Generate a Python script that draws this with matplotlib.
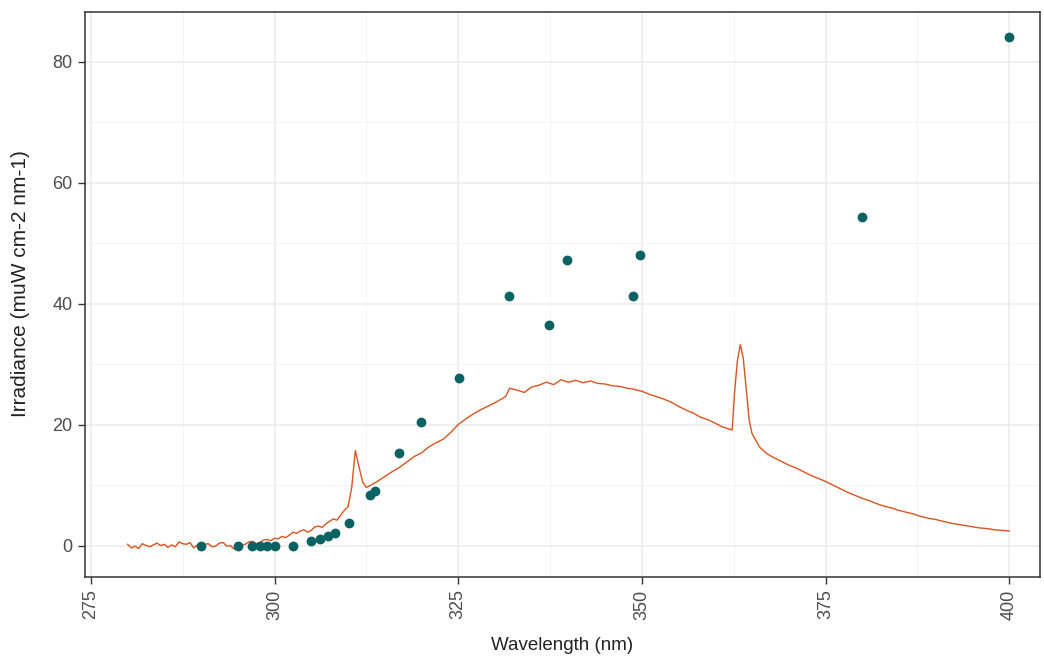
import matplotlib
matplotlib.use("Agg")
import matplotlib.pyplot as plt
from matplotlib.ticker import MultipleLocator

plt.rcParams['font.family'] = ['Liberation Sans', 'DejaVu Sans']

# measured points (wavelength nm, irradiance)
point_wl = [290, 295, 297, 298, 299, 300, 302.5, 305, 306.2, 307.3, 308.2, 310.2,
            313, 313.7, 316.9, 320, 325.1, 331.9, 337.3, 339.8, 348.8, 349.8, 380, 400]
point_irr = [0, 0, 0, 0, 0, 0, 0, 0.7, 1.0, 1.6, 2.1, 3.8,
             8.4, 9.0, 15.3, 20.5, 27.7, 41.3, 36.4, 47.2, 41.3, 48.1, 54.3, 84.0]

# lamp spectrum
spec_wl = [280, 280.5, 281, 281.5, 282, 282.5, 283, 283.5, 284, 284.5, 285, 285.5,
           286, 286.5, 287, 287.5, 288, 288.5, 289, 289.5, 290, 290.5, 291, 291.5,
           292, 292.5, 293, 293.5, 294, 294.5, 295, 295.5, 296, 296.5, 297, 297.5,
           298, 298.5, 299, 299.5, 300, 300.5, 301, 301.5, 302, 302.5, 303, 303.5,
           304, 304.5, 305, 305.5, 306, 306.5, 307, 307.5, 308, 308.5, 309,
           309.5, 310, 310.5, 311, 311.5, 312, 312.5, 313, 314, 315, 316, 317, 318, 319,
           320, 321, 322, 323, 324, 325, 326, 327, 328, 329, 330, 331, 331.5, 332, 333,
           334, 335, 336, 337, 338, 339, 340, 341, 342, 343, 344, 345, 346, 347, 348,
           349, 350, 351, 352, 353, 354, 355, 356, 357, 358, 359, 360, 361, 362, 362.3,
           362.6, 363, 363.4, 363.8, 364.2, 364.6, 365, 366, 367, 368, 369, 370, 371,
           372, 373, 374, 375, 376, 377, 378, 379, 380, 381, 382, 383, 384, 385, 386,
           387, 388, 389, 390, 391, 392, 393, 394, 395, 396, 397, 398, 399, 400]
spec_irr = [0.2, -0.4, -0.1, -0.5, 0.3, 0.0, -0.2, 0.1, 0.4, 0.0, 0.2, -0.3,
            0.1, -0.2, 0.6, 0.3, 0.2, 0.5, -0.4, 0.1, -0.6, 0.2, 0.3, -0.2,
            -0.1, 0.4, 0.5, -0.1, 0.0, -0.6, 0.4, 0.1, 0.2, 0.6, 0.7, 0.3,
            0.5, 0.9, 1.0, 0.8, 1.2, 1.1, 1.5, 1.3, 1.7, 2.2, 2.0, 2.4,
            2.6, 2.2, 2.5, 3.1, 3.2, 3.0, 3.6, 4.0, 4.4, 4.2, 5.0,
            5.8, 6.4, 9.5, 15.7, 13.0, 10.5, 9.6, 9.9, 10.6, 11.4, 12.2, 12.9, 13.8, 14.7,
            15.3, 16.3, 17.0, 17.6, 18.7, 20.0, 20.9, 21.7, 22.4, 23.0, 23.6, 24.3, 24.7, 26.0, 25.7,
            25.3, 26.2, 26.5, 27.0, 26.6, 27.4, 27.0, 27.3, 26.9, 27.2, 26.8, 26.7, 26.4, 26.3, 26.0,
            25.8, 25.5, 25.0, 24.6, 24.2, 23.7, 23.0, 22.4, 21.9, 21.2, 20.8, 20.2, 19.6, 19.2, 19.1,
            25.0, 30.5, 33.2, 31.0, 26.0, 20.8, 18.5, 16.3, 15.2, 14.5, 13.9, 13.3, 12.8,
            12.2, 11.6, 11.1, 10.6, 10.0, 9.4, 8.8, 8.3, 7.8, 7.4, 6.9, 6.5, 6.2, 5.8, 5.5,
            5.2, 4.8, 4.5, 4.3, 4.0, 3.7, 3.5, 3.3, 3.1, 2.9, 2.8, 2.6, 2.5, 2.4]

fig = plt.figure(figsize=(10.44, 6.57), dpi=100)
ax = fig.add_axes([0.0814, 0.1218, 0.9148, 0.86])

ax.plot(spec_wl, spec_irr, color='#d9541e', linewidth=1.0, zorder=3)
ax.scatter(point_wl, point_irr, s=50, color='#0b6262', zorder=4, linewidths=0)

ax.set_xlim(274.2, 404.2)
ax.set_ylim(-5.2, 88.2)
ax.xaxis.set_major_locator(MultipleLocator(25))
ax.xaxis.set_minor_locator(MultipleLocator(12.5))
ax.yaxis.set_major_locator(MultipleLocator(20))
ax.yaxis.set_minor_locator(MultipleLocator(10))

ax.grid(which='major', color='#ebebeb', linewidth=1.1)
ax.grid(which='minor', color='#f2f2f2', linewidth=0.6)
ax.set_axisbelow(True)

for s in ax.spines.values():
    s.set_color('#333333')
    s.set_linewidth(1.1)

ax.tick_params(axis='both', which='major', colors='#333333', length=5, width=1,
               labelcolor='#4d4d4d', labelsize=13, pad=4)
ax.tick_params(axis='both', which='minor', length=0)
ax.tick_params(axis='x', labelrotation=90)

ax.set_xlabel('Wavelength (nm)', fontsize=13.5, color='#222222')
ax.set_ylabel('Irradiance (muW cm-2 nm-1)', fontsize=15, color='#222222')
ax.xaxis.set_label_coords(0.5, -0.107)
ax.yaxis.set_label_coords(-0.058, 0.52)

fig.savefig('out.png', dpi=100)
